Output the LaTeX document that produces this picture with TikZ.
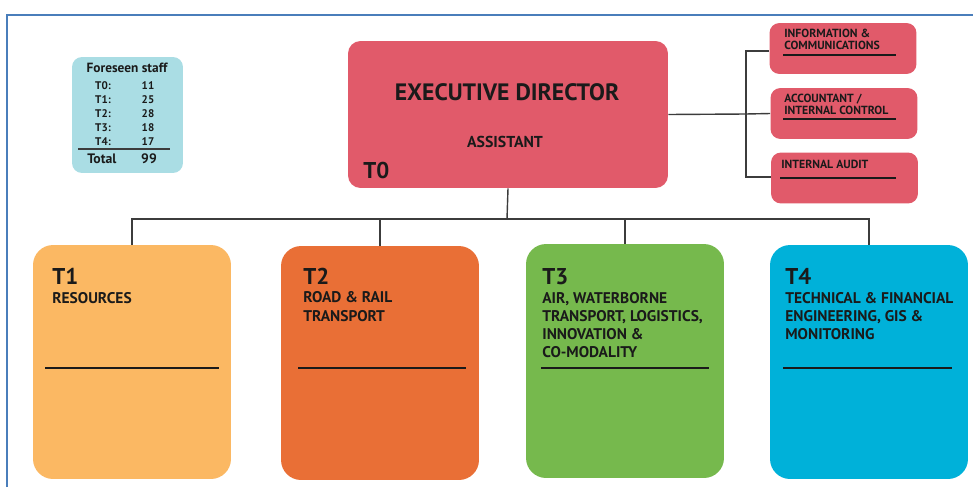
\documentclass[tikz,border=0pt]{standalone}
\usepackage{fontspec}
\setmainfont{PT Sans}

\definecolor{execred}{RGB}{225,90,106}
\definecolor{staffblue}{RGB}{170,221,228}
\definecolor{resorange}{RGB}{251,184,99}
\definecolor{roadorange}{RGB}{233,111,54}
\definecolor{airgreen}{RGB}{118,185,77}
\definecolor{techblue}{RGB}{0,177,217}
\definecolor{frameblue}{RGB}{74,126,187}
\definecolor{inkblack}{RGB}{26,26,26}
\definecolor{linkgray}{RGB}{60,60,60}

\begin{document}
\begin{tikzpicture}[x=0.02cm, y=-0.02cm,
    dept/.style={rounded corners=0.4cm, inner sep=0pt, minimum width=3.96cm, minimum height=4.68cm},
    sidebox/.style={fill=execred, rounded corners=0.2cm, inner sep=0pt, minimum width=2.94cm, minimum height=1.02cm},
    link/.style={draw=linkgray, line width=0.8pt},
    rule/.style={draw=inkblack, line width=0.7pt},
    tlabel/.style={anchor=base west, inner sep=0pt, text=inkblack, font=\fontsize{13}{15}\selectfont\bfseries},
    dname/.style={anchor=base west, inner sep=0pt, align=left, text=inkblack, font=\fontsize{8.8}{10.3}\selectfont\bfseries},
    sname/.style={anchor=base west, inner sep=0pt, align=left, text=inkblack, font=\fontsize{6.7}{6.8}\selectfont\bfseries},
    staffrow/.style={anchor=base, inner sep=0pt, text=inkblack, font=\fontsize{6.3}{7}\selectfont\bfseries}]
  \useasboundingbox (0,0) rectangle (973,487);
  \draw[draw=frameblue, line width=1.2pt] (7,487) -- (7,15) -- (975,15);

  % Foreseen staff
  \node[fill=staffblue, rounded corners=0.2cm, inner sep=0pt, minimum width=2.22cm, minimum height=2.32cm] (staff) at (127.5,115) {};
  \node[staffrow, font=\fontsize{7.6}{8}\selectfont\bfseries] (stafftitle) at (127,72) {Foreseen staff};
  \foreach \k/\n [count=\i] in {0/11, 1/25, 2/28, 3/18, 4/17} {
    \node[staffrow] (tag\k) at (103,75+14*\i) {T\k:};
    \node[staffrow] (num\k) at (148,75+14*\i) {\n};
  }
  \draw[rule, draw=linkgray] (78,149) -- (170,149);
  \node[staffrow, anchor=base west, font=\fontsize{7.8}{8}\selectfont\bfseries] (total) at (87,163) {Total};
  \node[staffrow, font=\fontsize{7.8}{8}\selectfont\bfseries] (totalnum) at (149,163) {99};

  % Executive director
  \node[fill=execred, rounded corners=0.25cm, inner sep=0pt, minimum width=6.4cm, minimum height=2.94cm] (exec) at (508,114.5) {};
  \node[anchor=base, inner sep=0pt, text=inkblack, font=\fontsize{13.5}{15}\selectfont\bfseries] (exectitle) at (507,100) {EXECUTIVE DIRECTOR};
  \node[anchor=base, inner sep=0pt, text=inkblack, font=\fontsize{9}{10}\selectfont\bfseries] (assistant) at (505,147) {ASSISTANT};
  \node[tlabel] (t0lab) at (363,178) {T0};

  % Units attached to the director (base = last line)
  \node[sidebox] (info) at (843,48.5) {};
  \node[sidebox] (accounts) at (844,113.5) {};
  \node[sidebox] (audit) at (844.5,178) {};
  \node[sname] (infolab) at (784,49) {INFORMATION \&\\COMMUNICATIONS};
  \node[sname] (accountslab) at (784,114) {ACCOUNTANT /\\INTERNAL CONTROL};
  \node[sname] (auditlab) at (781,168) {INTERNAL AUDIT};
  \draw[rule] (783,55) -- (896,55);
  \draw[rule] (783,119) -- (896,119);
  \draw[rule] (780,178) -- (896,178);

  \coordinate (bus) at (746,114);
  \draw[link] (exec.east) -- (bus) -- (accounts.west);
  \draw[link] (info.west |- 0,51) -| (bus) |- (audit.west |- 0,177);

  % Departments
  \node[dept, fill=resorange] (t1) at (132,362) {};
  \node[dept, fill=roadorange] (t2) at (380,363) {};
  \node[dept, fill=airgreen] (t3) at (625,361) {};
  \node[dept, fill=techblue] (t4) at (869,362) {};

  \node[tlabel] (t1lab) at (52,284) {T1};  \node[dname] (t1name) at (52,303) {RESOURCES};
  \node[tlabel] (t2lab) at (303,284) {T2}; \node[dname] (t2name) at (303,321) {ROAD \& RAIL\\TRANSPORT};
  \node[tlabel] (t3lab) at (542,284) {T3}; \node[dname] (t3name) at (542,357.6) {AIR, WATERBORNE\\TRANSPORT, LOGISTICS,\\INNOVATION \&\\CO-MODALITY};
  \node[tlabel] (t4lab) at (785,284) {T4}; \node[dname] (t4name) at (785,339.4) {TECHNICAL \& FINANCIAL\\ENGINEERING, GIS \&\\MONITORING};
  \foreach \a/\b in {45/219, 298/466, 541/709, 783/952}
    \draw[rule] (\a,368) -- (\b,368);

  \coordinate (split) at (507,219);
  \draw[link] (exec.south) -- (split);
  \draw[link] (t1.north) |- (split) -| (t4.north);
  \draw[link] (t2.north) |- (split);
  \draw[link] (t3.north) |- (split);
\end{tikzpicture}
\end{document}
